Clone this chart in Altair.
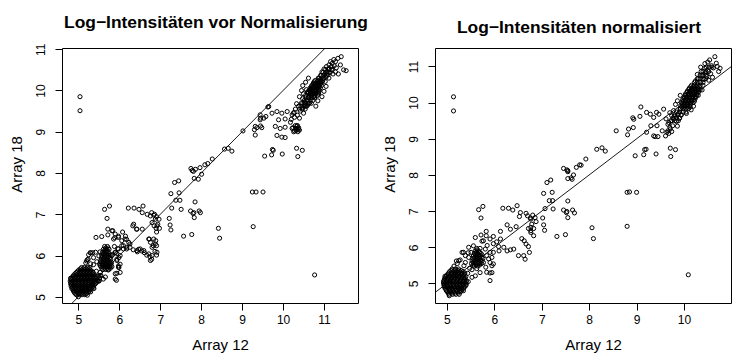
import altair as alt
import pandas as pd

# ---------------- Left panel: Log-Intensitäten vor Normalisierung ----------------
L_title = "Log\u2212Intensitäten vor Normalisierung"
L_xticks = [5, 6, 7, 8, 9, 10, 11]
L_yticks = [5, 6, 7, 8, 9, 10, 11]
L_xdom = [4.60, 11.83]
L_ydom = [4.85, 11.03]

# dense low-intensity blob: (y, [x values])
L_blob_rows = [
    (5.05, [4.95, 5.02, 5.09, 5.16]),
    (5.11, [4.90, 4.97, 5.04, 5.11, 5.18, 5.24]),
    (5.17, [4.87, 4.94, 5.01, 5.08, 5.15, 5.22, 5.28]),
    (5.23, [4.85, 4.92, 4.99, 5.06, 5.13, 5.20, 5.27, 5.33]),
    (5.29, [4.83, 4.90, 4.97, 5.04, 5.11, 5.18, 5.25, 5.32, 5.39]),
    (5.35, [4.82, 4.89, 4.96, 5.03, 5.10, 5.17, 5.24, 5.31, 5.38, 5.44]),
    (5.41, [4.83, 4.90, 4.97, 5.04, 5.11, 5.18, 5.25, 5.32, 5.39, 5.45]),
    (5.47, [4.85, 4.92, 4.99, 5.06, 5.13, 5.20, 5.27, 5.34, 5.41]),
    (5.53, [4.89, 4.96, 5.03, 5.10, 5.17, 5.24, 5.31, 5.38]),
    (5.59, [4.95, 5.02, 5.09, 5.16, 5.23, 5.30, 5.36]),
    (5.65, [5.01, 5.08, 5.15, 5.22, 5.29]),
    (5.71, [5.08, 5.15, 5.22]),
]
L_blob_rows2 = [
    (5.08, [4.92, 4.99, 5.06, 5.13, 5.20]),
    (5.14, [4.88, 4.95, 5.02, 5.09, 5.15, 5.21, 5.27]),
    (5.20, [4.84, 4.90, 4.97, 5.04, 5.11, 5.18, 5.25, 5.31]),
    (5.26, [4.82, 4.88, 4.95, 5.02, 5.09, 5.16, 5.23, 5.30, 5.36]),
    (5.32, [4.81, 4.86, 4.93, 5.00, 5.07, 5.14, 5.21, 5.28, 5.35, 5.42]),
    (5.38, [4.80, 4.86, 4.93, 5.00, 5.07, 5.14, 5.21, 5.28, 5.35, 5.42, 5.47]),
    (5.44, [4.82, 4.87, 4.94, 5.01, 5.08, 5.15, 5.22, 5.29, 5.36, 5.43]),
    (5.50, [4.87, 4.94, 5.01, 5.08, 5.15, 5.22, 5.29, 5.36, 5.43]),
    (5.56, [4.92, 4.99, 5.06, 5.13, 5.20, 5.27, 5.34]),
    (5.62, [4.98, 5.05, 5.12, 5.19, 5.26, 5.33]),
    (5.68, [5.05, 5.12, 5.19, 5.26]),
]
# second cluster near 5.6 / 5.9
L_clus_rows = [
    (5.66, [5.60, 5.67, 5.74]),
    (5.73, [5.55, 5.62, 5.69, 5.76, 5.82]),
    (5.80, [5.52, 5.59, 5.66, 5.73, 5.79]),
    (5.87, [5.54, 5.61, 5.68, 5.75]),
    (5.94, [5.56, 5.63, 5.70, 5.77]),
    (6.01, [5.57, 5.64, 5.71, 5.78]),
    (6.08, [5.59, 5.66, 5.73]),
    (6.15, [5.61, 5.68, 5.75]),
    (6.22, [5.64, 5.71]),
]
L_clus_rows2 = [
    (5.69, [5.57, 5.64, 5.71, 5.78]),
    (5.76, [5.53, 5.59, 5.66, 5.73, 5.80]),
    (5.83, [5.55, 5.62, 5.69, 5.76]),
    (5.90, [5.57, 5.64, 5.71, 5.79]),
    (5.97, [5.59, 5.66, 5.73]),
    (6.04, [5.61, 5.68, 5.75]),
    (6.11, [5.63, 5.70]),
    (6.18, [5.66, 5.73]),
]
# dense high-intensity band: (y, [x values])
L_core_rows = [
    (9.88, [10.63, 10.70, 10.77, 10.84]),
    (9.94, [10.62, 10.68, 10.74, 10.80, 10.87]),
    (10.00, [10.64, 10.70, 10.76, 10.82, 10.89]),
    (10.06, [10.66, 10.72, 10.78, 10.84, 10.91]),
    (10.12, [10.70, 10.76, 10.82, 10.88, 10.94]),
    (10.18, [10.74, 10.80, 10.86, 10.92]),
    (10.24, [10.78, 10.85, 10.91, 10.97]),
]
L_core_rows2 = [
    (9.55, [10.40, 10.47, 10.54]),
    (9.62, [10.44, 10.51, 10.58]),
    (9.69, [10.48, 10.55, 10.62, 10.69]),
    (9.76, [10.52, 10.59, 10.66, 10.73]),
    (9.82, [10.56, 10.63, 10.70, 10.77]),
    (9.91, [10.65, 10.72, 10.79, 10.86]),
    (9.97, [10.60, 10.67, 10.73, 10.79, 10.86]),
    (10.03, [10.67, 10.73, 10.80, 10.87]),
    (10.09, [10.69, 10.75, 10.81, 10.88]),
    (10.15, [10.73, 10.79, 10.85, 10.91]),
    (10.21, [10.76, 10.83, 10.89, 10.95]),
    (10.30, [10.86, 10.93, 11.00]),
    (10.37, [10.92, 10.99, 11.06]),
    (10.44, [10.98, 11.05, 11.12]),
    (10.51, [11.04, 11.11, 11.18]),
]
# individual points (x, y)
L_low_pts = [
    (5.22, 5.90), (5.18, 5.82), (5.30, 5.80), (5.52, 5.46), (5.55, 5.52), (5.50, 5.38),
    (5.30, 5.12), (5.38, 5.20), (5.22, 5.04), (4.81, 5.45), (5.00, 5.00), (5.35, 6.07),
    (5.25, 6.02), (5.44, 5.62), (5.29, 6.07), (5.37, 5.95), (5.20, 5.87), (5.94, 5.91),
    (5.98, 5.75), (6.02, 5.59), (5.90, 5.43), (5.90, 6.07), (5.37, 5.23), (5.49, 5.51),
    (5.53, 5.59), (5.51, 5.39), (5.61, 5.43), (5.53, 5.51), (5.66, 5.48),
    (5.53, 6.09), (5.50, 5.99), (5.45, 5.85), (5.37, 5.78), (5.28, 5.71), (5.24, 5.91),
    (5.30, 6.06), (5.42, 6.08), (5.81, 5.83), (5.73, 5.65), (5.69, 5.75), (5.84, 6.03),
]
L_mid_pts = [
    (5.64, 7.12), (5.76, 7.20), (5.70, 6.90),
    (6.22, 7.15), (6.36, 7.15), (6.58, 7.20), (6.48, 7.12), (6.56, 7.04), (6.68, 7.00),
    (6.76, 6.96), (6.84, 6.98), (6.88, 6.88), (6.80, 6.80), (6.92, 6.72),
    (6.79, 7.04), (6.86, 7.00), (6.91, 6.94), (6.97, 6.88), (6.94, 6.76), (6.85, 6.72),
    (6.90, 6.66), (6.98, 6.66), (6.91, 6.57),
    (5.43, 6.44), (5.57, 6.46), (5.72, 6.50), (5.84, 6.60), (5.72, 6.64), (5.89, 6.43),
    (5.98, 6.47), (6.08, 6.57), (6.18, 6.39), (6.15, 6.47), (6.26, 6.28), (6.33, 6.72),
    (6.42, 6.64), (6.56, 6.64),
    (6.73, 6.40), (6.76, 6.32), (6.83, 6.24), (6.91, 6.24), (6.89, 6.36),
    (6.61, 6.07), (6.67, 6.01), (6.75, 5.97), (6.79, 5.91), (6.91, 6.01), (6.87, 6.10),
    (6.34, 6.14), (6.47, 6.15), (6.55, 6.11), (6.44, 6.09), (6.18, 6.20), (6.06, 6.24),
    (6.10, 6.16), (5.96, 6.17), (5.88, 6.22), (5.94, 6.05), (5.99, 5.95), (6.02, 5.79),
    (5.99, 5.71), (5.94, 5.57), (5.93, 5.40),
    (5.82, 6.60), (5.90, 6.52), (5.86, 6.40), (5.98, 6.44), (6.06, 6.36), (6.14, 6.40),
    (6.23, 6.32), (6.10, 6.24), (6.18, 6.16), (6.26, 6.20), (5.98, 6.16), (5.90, 6.08),
    (6.02, 6.00), (5.82, 6.00), (5.94, 5.88), (5.98, 5.72), (5.90, 5.56),
    (6.35, 6.76), (6.43, 6.64), (6.51, 6.16), (6.60, 6.12), (6.43, 6.12),
    (6.72, 6.40), (6.84, 6.40), (6.88, 6.28), (6.80, 6.20), (6.72, 6.04), (6.80, 6.00),
    (6.92, 6.08), (6.76, 5.88),
]
L_high_pts = [
    (9.63, 9.60), (9.02, 9.02), (9.32, 8.92), (9.30, 9.05), (9.36, 9.10), (9.45, 9.14),
    (9.48, 9.10), (9.45, 9.33), (9.58, 9.37),
    (8.57, 8.58), (8.75, 8.53), (8.66, 8.60), (8.27, 8.34), (8.16, 8.23), (8.09, 8.20),
    (7.97, 8.13), (7.86, 8.09), (7.75, 8.11), (7.81, 8.04), (7.83, 7.87), (7.93, 7.85),
    (8.01, 7.97), (7.78, 8.06),
    (7.45, 7.81), (7.35, 7.77), (7.26, 7.50), (7.46, 7.52), (7.48, 7.34), (7.38, 7.34),
    (7.28, 7.15), (7.51, 7.12), (7.22, 6.90), (7.24, 6.74), (7.26, 6.62),
    (7.74, 7.08), (7.82, 7.04), (7.95, 7.08), (7.98, 7.04), (7.85, 7.30), (7.83, 6.92),
    (7.80, 7.02),
    (7.57, 6.47), (7.77, 6.51), (8.42, 6.66), (8.45, 6.42), (9.25, 7.54), (9.34, 7.54),
    (9.51, 7.54), (9.27, 6.70),
    (9.55, 8.41), (9.72, 8.44), (9.74, 8.57), (9.76, 8.55), (9.98, 8.46), (10.33, 8.60),
    (10.47, 8.55), (10.36, 8.40),
    (9.65, 9.61), (9.44, 9.41), (9.53, 9.33), (9.44, 9.29), (9.73, 9.45), (9.85, 9.49),
    (9.97, 9.45), (10.10, 9.49), (10.22, 9.41), (9.89, 9.29), (10.05, 9.31), (10.18, 9.23),
    (9.32, 9.13), (9.81, 9.13), (9.93, 9.08), (10.05, 9.11), (10.22, 9.08), (10.28, 9.02),
    (10.34, 9.08), (10.30, 9.15), (9.85, 8.91), (9.97, 8.87), (10.05, 8.86),
    (10.26, 9.00), (10.32, 9.03), (10.36, 9.00), (10.30, 9.08), (10.38, 9.10), (10.35, 9.15),
    (10.40, 9.04), (10.20, 9.30), (10.27, 9.47), (10.24, 9.10), (10.38, 9.06), (10.34, 9.14),
    (10.25, 9.45), (10.30, 9.55), (10.35, 9.40), (10.38, 9.62), (10.42, 9.50), (10.45, 9.70),
    (10.40, 9.33), (10.48, 9.58), (10.33, 9.68), (10.50, 9.45), (10.28, 9.35), (10.52, 9.65),
    (10.48, 9.80), (10.52, 9.72), (10.55, 9.88), (10.58, 9.76), (10.60, 9.95), (10.62, 9.83),
    (10.65, 9.70), (10.66, 9.98), (10.68, 9.88), (10.70, 10.05), (10.72, 9.92), (10.55, 9.62),
    (10.60, 9.65), (10.75, 9.85), (10.50, 9.92), (10.57, 10.02),
    (10.88, 10.30), (10.93, 10.36), (10.98, 10.28), (11.02, 10.40), (11.05, 10.33),
    (11.08, 10.46), (11.10, 10.38), (11.13, 10.52), (11.15, 10.44), (11.18, 10.58),
    (11.20, 10.50), (10.95, 10.45), (11.00, 10.52), (11.06, 10.58), (11.12, 10.30),
    (11.22, 10.40), (11.03, 10.22), (10.90, 10.20),
    (11.12, 10.62), (11.20, 10.66), (11.28, 10.70), (11.34, 10.78), (11.42, 10.82),
    (11.40, 10.62), (11.48, 10.50), (11.54, 10.48), (11.25, 10.60), (11.30, 10.55),
    (11.16, 10.70), (11.24, 10.75),
    (10.55, 10.20), (10.62, 10.30), (10.48, 10.12), (10.95, 9.85), (11.00, 9.98),
    (11.05, 10.10), (10.85, 9.75), (10.80, 9.62), (10.40, 9.85), (10.45, 10.00),
    (11.35, 10.40), (11.28, 10.45),
    (5.04, 9.85), (5.04, 9.51), (10.77, 5.53),
]

# ---------------- Right panel: Log-Intensitäten normalisiert ----------------
R_title = "Log\u2212Intensitäten normalisiert"
R_xticks = [5, 6, 7, 8, 9, 10]
R_yticks = [5, 6, 7, 8, 9, 10, 11]
R_xdom = [4.75, 10.99]
R_ydom = [4.46, 11.51]

R_blob_rows = [
    (4.70, [5.05, 5.12, 5.19, 5.26]),
    (4.77, [5.01, 5.08, 5.15, 5.22, 5.29]),
    (4.84, [4.98, 5.05, 5.12, 5.19, 5.26, 5.32]),
    (4.91, [4.95, 5.02, 5.09, 5.16, 5.23, 5.30, 5.37]),
    (4.98, [4.94, 5.00, 5.07, 5.14, 5.21, 5.28, 5.35, 5.41]),
    (5.05, [4.93, 4.99, 5.06, 5.13, 5.20, 5.27, 5.34, 5.41]),
    (5.12, [4.95, 5.02, 5.09, 5.16, 5.23, 5.30, 5.37]),
    (5.19, [4.98, 5.05, 5.12, 5.19, 5.26, 5.33, 5.40]),
    (5.26, [5.02, 5.09, 5.16, 5.23, 5.30, 5.37]),
    (5.33, [5.06, 5.13, 5.20, 5.27, 5.34]),
    (5.40, [5.11, 5.18, 5.25]),
]
R_blob_rows2 = [
    (4.73, [5.03, 5.10, 5.17, 5.24]),
    (4.80, [4.99, 5.06, 5.13, 5.20, 5.27, 5.31]),
    (4.87, [4.96, 5.03, 5.10, 5.17, 5.24, 5.31, 5.36]),
    (4.94, [4.94, 5.00, 5.06, 5.13, 5.20, 5.27, 5.34, 5.40]),
    (5.01, [4.93, 4.97, 5.04, 5.11, 5.18, 5.25, 5.32, 5.39]),
    (5.08, [4.94, 5.00, 5.07, 5.14, 5.21, 5.28, 5.35, 5.41]),
    (5.15, [4.96, 5.03, 5.10, 5.17, 5.24, 5.31, 5.38]),
    (5.22, [5.00, 5.07, 5.14, 5.21, 5.28, 5.35]),
    (5.29, [5.04, 5.11, 5.18, 5.25, 5.32, 5.38]),
    (5.36, [5.09, 5.16, 5.23, 5.30]),
]
R_clus_rows = [
    (5.48, [5.58, 5.65]),
    (5.55, [5.52, 5.59, 5.66, 5.73]),
    (5.62, [5.53, 5.60, 5.67, 5.74]),
    (5.69, [5.55, 5.62, 5.69, 5.76]),
    (5.76, [5.56, 5.63, 5.70]),
    (5.83, [5.58, 5.65, 5.72]),
    (5.90, [5.60, 5.67]),
    (5.97, [5.63, 5.70]),
]
R_clus_rows2 = [
    (5.51, [5.55, 5.62, 5.69]),
    (5.58, [5.56, 5.63, 5.70]),
    (5.65, [5.57, 5.64, 5.71]),
    (5.72, [5.59, 5.66, 5.73]),
    (5.79, [5.60, 5.67, 5.74]),
    (5.86, [5.62, 5.69]),
    (5.93, [5.64]),
]
R_core_rows = [
    (9.84, [9.92, 9.98, 10.04, 10.10]),
    (9.92, [9.93, 9.99, 10.05, 10.11]),
    (10.00, [9.95, 10.01, 10.07, 10.13, 10.19]),
    (10.08, [9.97, 10.03, 10.09, 10.15, 10.21]),
    (10.16, [10.00, 10.06, 10.12, 10.18, 10.24]),
    (10.24, [10.03, 10.09, 10.15, 10.21, 10.27]),
    (10.32, [10.07, 10.13, 10.19, 10.25, 10.31]),
    (10.40, [10.11, 10.17, 10.23, 10.29]),
    (10.48, [10.16, 10.22, 10.28, 10.34]),
]
R_core_rows2 = [
    (9.50, [9.74, 9.81, 9.88]),
    (9.58, [9.77, 9.84, 9.91]),
    (9.66, [9.80, 9.87, 9.94]),
    (9.74, [9.84, 9.91, 9.98, 10.04]),
    (9.88, [9.95, 10.01, 10.07, 10.13]),
    (9.96, [9.96, 10.02, 10.08, 10.14]),
    (10.04, [9.98, 10.04, 10.10, 10.16, 10.22]),
    (10.12, [10.00, 10.06, 10.12, 10.18, 10.24]),
    (10.20, [10.03, 10.09, 10.15, 10.21, 10.27]),
    (10.28, [10.06, 10.12, 10.18, 10.24, 10.30]),
    (10.36, [10.10, 10.16, 10.22, 10.28, 10.34]),
    (10.44, [10.14, 10.20, 10.26, 10.32]),
    (10.56, [10.22, 10.28, 10.34, 10.40]),
    (10.66, [10.28, 10.34, 10.40, 10.46]),
    (10.76, [10.34, 10.40, 10.46]),
    (10.86, [10.40, 10.46, 10.52]),
    (10.98, [10.47, 10.53, 10.59]),
]
R_low_pts = [
    (5.53, 5.17), (5.60, 5.21), (5.45, 5.05), (5.22, 5.55), (5.28, 5.65), (5.15, 5.48),
    (4.96, 5.20), (5.05, 4.66), (5.35, 4.80), (5.44, 5.28), (5.20, 5.62),
    (5.32, 5.86), (5.39, 5.77), (5.25, 5.63), (5.36, 5.49), (5.81, 5.95), (5.91, 5.86),
    (5.88, 5.68), (5.98, 5.54), (5.95, 5.30), (5.91, 5.08), (5.84, 5.31), (5.74, 6.17),
    (5.85, 6.05), (5.98, 6.10), (6.10, 5.90), (5.82, 5.45), (5.48, 5.42), (5.45, 5.85),
    (5.51, 5.86), (5.46, 5.72), (5.39, 5.58), (5.53, 5.38), (5.63, 5.41), (5.70, 5.30),
    (5.35, 5.86), (5.46, 6.00), (5.56, 6.04),
]
R_mid_pts = [
    (5.67, 7.04), (5.76, 7.13), (5.72, 6.81),
    (5.60, 6.27), (5.72, 6.34), (5.83, 6.44), (5.83, 6.32), (5.77, 6.18),
    (5.91, 6.23), (5.98, 6.30), (6.05, 6.15), (6.13, 6.23), (6.13, 6.44),
    (6.18, 7.08), (6.30, 7.08), (6.39, 7.03), (6.48, 7.15), (6.55, 6.96), (6.67, 6.94),
    (6.70, 6.87), (6.76, 6.81), (6.53, 6.85),
    (6.27, 6.62), (6.34, 6.50), (6.46, 6.57), (6.72, 6.52), (6.77, 6.55),
    (6.58, 6.24), (6.63, 6.18), (6.67, 6.09), (6.72, 6.02), (6.74, 5.86), (6.62, 5.77),
    (6.65, 5.67), (6.51, 5.77),
    (6.34, 5.93), (6.41, 5.95), (6.27, 5.90), (6.20, 6.00), (6.09, 6.02),
    (5.98, 5.86), (5.95, 5.72), (5.91, 5.58), (5.95, 5.49), (5.91, 5.29),
    (5.84, 5.77), (5.77, 5.58),
    (6.83, 6.32), (6.77, 6.41),
    (6.81, 6.89), (6.86, 6.82), (6.77, 6.78), (6.88, 6.71), (6.79, 6.64), (6.83, 6.52),
    (6.77, 6.46),
]
R_high_pts = [
    (8.80, 7.52), (8.85, 7.53), (9.00, 7.52), (8.80, 6.58), (8.06, 6.54), (8.09, 6.24),
    (7.32, 6.30), (7.50, 6.35),
    (7.04, 7.49), (7.22, 7.52), (7.16, 7.29), (7.23, 7.29), (7.07, 7.07), (7.24, 7.06),
    (7.02, 6.81), (7.04, 6.62), (7.06, 6.47),
    (7.11, 7.79), (7.19, 7.86),
    (7.46, 8.18), (7.53, 8.14), (7.55, 8.09), (7.55, 7.90), (7.64, 7.88), (7.67, 8.00),
    (7.73, 8.21), (7.80, 8.28), (7.83, 8.27), (7.93, 8.44), (7.55, 8.12), (7.62, 7.92),
    (7.46, 7.03), (7.52, 6.96), (7.65, 7.03), (7.69, 6.95), (7.55, 7.28), (7.55, 6.82),
    (7.53, 6.99),
    (8.16, 8.71), (8.27, 8.75), (8.34, 8.66),
    (8.57, 9.22), (8.81, 9.11), (8.83, 9.27), (8.93, 9.31), (8.94, 9.54), (8.92, 9.58),
    (9.07, 9.62), (9.09, 9.88),
    (8.97, 8.53), (9.15, 8.56), (9.17, 8.70), (9.20, 8.71), (9.41, 8.58), (9.71, 8.74),
    (9.72, 8.51), (9.82, 8.70),
    (9.21, 9.73), (9.29, 9.68), (9.36, 9.59), (9.42, 9.73), (9.47, 9.68), (9.57, 9.82),
    (9.21, 9.18), (9.30, 9.36), (9.36, 9.08), (9.45, 9.06), (9.43, 9.36), (9.54, 9.22),
    (9.64, 9.18), (9.71, 9.27), (9.68, 9.45), (9.78, 9.54), (9.61, 9.08), (9.39, 9.06),
    (9.66, 9.22), (9.70, 9.32), (9.74, 9.20), (9.68, 9.15),
    (9.66, 9.40), (9.72, 9.50), (9.76, 9.36), (9.80, 9.62), (9.84, 9.48), (9.88, 9.70),
    (9.74, 9.64), (9.90, 9.56), (9.70, 9.72), (9.86, 9.35), (9.78, 9.78), (9.92, 9.82),
    (9.62, 9.55), (9.94, 9.66),
    (10.24, 10.60), (10.30, 10.66), (10.34, 10.56), (10.38, 10.74), (10.42, 10.64),
    (10.45, 10.82), (10.48, 10.72), (10.50, 10.90), (10.36, 10.86), (10.28, 10.78),
    (10.52, 10.62), (10.44, 10.95), (10.56, 10.80),
    (10.65, 11.27), (10.54, 11.18), (10.68, 11.09), (10.76, 10.95), (10.73, 10.86),
    (10.44, 11.08), (10.58, 11.02), (10.50, 11.12), (10.62, 10.96), (10.70, 11.00),
    (9.86, 10.05), (9.92, 10.20), (10.30, 10.20), (10.38, 10.35), (10.40, 10.48),
    (9.82, 9.95), (10.20, 9.90), (10.15, 9.80), (10.05, 9.70), (10.60, 10.70), (10.35, 10.98),
    (5.14, 10.16), (5.14, 9.77), (10.09, 5.24),
]

diag = [0.0, 20.0]  # identity line y = x


def expand(rows):
    out = []
    for yv, xs in rows:
        for xv in xs:
            out.append((xv, yv))
    return out


def panel(title, title_dx, rows_list, pts_list, xdom, ydom, xticks, yticks):
    pts = []
    for r in rows_list:
        pts += expand(r)
    for p in pts_list:
        pts += p
    df = pd.DataFrame(pts, columns=["x", "y"])
    line_df = pd.DataFrame({"x": diag, "y": diag})
    xs = alt.Scale(domain=xdom, nice=False, zero=False)
    ys = alt.Scale(domain=ydom, nice=False, zero=False)
    xax = alt.Axis(
        values=xticks, title="Array 12", format="d", domain=False, grid=False,
        tickSize=7, tickColor="black", labelPadding=4, labelFlush=False,
        labelFontSize=12, titleFontSize=15,
        titleX=158, titleY=34, titleBaseline="top", titleAlign="center",
    )
    yax = alt.Axis(
        values=yticks, title="Array 18", format="d", domain=False, grid=False,
        tickSize=7, tickColor="black", labelAngle=270, labelAlign="center",
        labelBaseline="bottom", labelPadding=8, labelFontSize=12, titleFontSize=15,
        titleX=-46, titleY=116, titleBaseline="middle", titleAlign="center",
        titleAngle=270,
    )
    points = alt.Chart(df).mark_point(
        shape="circle", filled=False, size=17, strokeWidth=1, color="black", opacity=1
    ).encode(
        x=alt.X("x:Q", scale=xs, axis=xax),
        y=alt.Y("y:Q", scale=ys, axis=yax),
    )
    line = alt.Chart(line_df).mark_line(color="black", strokeWidth=0.9, clip=True).encode(
        x=alt.X("x:Q", scale=xs, axis=xax),
        y=alt.Y("y:Q", scale=ys, axis=yax),
    )
    return alt.layer(points, line).properties(
        width=296, height=255, title=alt.TitleParams(title, dx=title_dx)
    )


left = panel(L_title, 6, [L_blob_rows, L_blob_rows2, L_clus_rows, L_clus_rows2,
                          L_core_rows, L_core_rows2],
             [L_low_pts, L_mid_pts, L_high_pts], L_xdom, L_ydom, L_xticks, L_yticks)
right = panel(R_title, -4, [R_blob_rows, R_blob_rows2, R_clus_rows, R_clus_rows2,
                            R_core_rows, R_core_rows2],
              [R_low_pts, R_mid_pts, R_high_pts], R_xdom, R_ydom, R_xticks, R_yticks)

chart = alt.hconcat(left, right, spacing=77, bounds="flush").properties(
    padding={"left": 0, "top": 5, "right": 0, "bottom": 0},
    background="white",
).configure_view(
    stroke="black", strokeWidth=1
).configure_axis(
    labelFont="Liberation Sans", labelColor="black", labelOverlap=False,
    titleFont="Liberation Sans", titleFontWeight="normal", titleColor="black",
).configure_title(
    font="Liberation Sans", fontSize=17.4, fontWeight="bold", color="black", offset=12,
    anchor="middle",
)

chart.save("out.html", embed_options={"renderer": "svg", "actions": False})
